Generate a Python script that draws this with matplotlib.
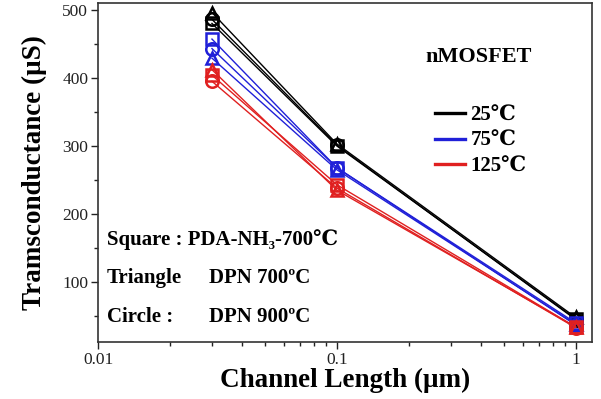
import matplotlib
matplotlib.use("Agg")
import matplotlib.pyplot as plt
from matplotlib.lines import Line2D
from matplotlib.ticker import FixedLocator, NullFormatter

plt.rcParams['font.family'] = ['Liberation Serif', 'DejaVu Serif']

# Channel length (um)
lengths = [0.03, 0.1, 1.0]

# Transconductance (uS) per temperature and dielectric process
gm_25_square = [480, 300, 46]
gm_25_triangle = [496, 303, 48]
gm_25_circle = [486, 301, 45]
gm_75_square = [457, 268, 40]
gm_75_triangle = [429, 265, 38]
gm_75_circle = [443, 268, 37]
gm_125_square = [404, 243, 34]
gm_125_triangle = [412, 235, 34]
gm_125_circle = [395, 238, 33]

temps = ['25\u2103', '75\u2103', '125\u2103']
colors = ['black', '#2020d8', '#e02020']

series = [
    (gm_25_circle, 'o', 0), (gm_25_square, 's', 0), (gm_25_triangle, '^', 0),
    (gm_75_triangle, '^', 1), (gm_75_circle, 'o', 1), (gm_75_square, 's', 1),
    (gm_125_square, 's', 2), (gm_125_triangle, '^', 2), (gm_125_circle, 'o', 2),
]

fig = plt.figure(figsize=(6.01, 3.99), dpi=100)
ax = fig.add_axes([98 / 601, 1 - 342 / 399, (592 - 98) / 601, (342 - 3) / 399])

for vals, mk, ci in series:
    ax.plot(lengths, vals, color=colors[ci], lw=1.0, marker=mk, markersize=9,
            markerfacecolor='none', markeredgecolor=colors[ci], markeredgewidth=1.8)

ax.set_xscale('log')
ax.set_xlim(0.01, 1.17)
ax.set_ylim(12, 510)
ax.set_yticks([100, 200, 300, 400, 500])
ax.yaxis.set_minor_locator(FixedLocator([50, 150, 250, 350, 450]))
ax.set_xticks([0.01, 0.1, 1])
ax.set_xticklabels(['0.01', '0.1', '1'])
ax.xaxis.set_minor_formatter(NullFormatter())

ax.tick_params(axis='both', which='major', direction='out', length=5, width=1,
               labelsize=12.5, pad=2, colors='#222222')
ax.tick_params(axis='both', which='minor', direction='out', length=3, width=1,
               colors='#222222')
for s in ax.spines.values():
    s.set_linewidth(1.2)
    s.set_color('#333333')

ax.set_xlabel('Channel Length (\u03bcm)', fontsize=19.5, fontweight='bold', labelpad=0)
ax.set_ylabel('Tramsconductance (\u03bcS)', fontsize=19.5, fontweight='bold', labelpad=11)

ax.text(0.771, 0.84, 'nMOSFET', transform=ax.transAxes, fontsize=16,
        fontweight='bold', ha='center', va='center')

handles = [Line2D([0], [0], color=c, lw=2.4) for c in colors]
leg = ax.legend(handles, temps, loc='upper left', bbox_to_anchor=(0.682, 0.697),
                frameon=False, handlelength=1.45, handletextpad=0.25,
                labelspacing=0.26, borderpad=0, borderaxespad=0,
                prop={'size': 15, 'weight': 'bold'})

tx1 = 0.018
tx2 = 0.225
ax.text(tx1, 0.302, 'Square : PDA-NH\u2083-700\u2103', transform=ax.transAxes,
        fontsize=15, fontweight='bold', va='center')
ax.text(tx1, 0.19, 'Triangle', transform=ax.transAxes,
        fontsize=15, fontweight='bold', va='center')
ax.text(tx2, 0.19, 'DPN 700\u00baC', transform=ax.transAxes,
        fontsize=15, fontweight='bold', va='center')
ax.text(tx1, 0.075, 'Circle :', transform=ax.transAxes,
        fontsize=15, fontweight='bold', va='center')
ax.text(tx2, 0.075, 'DPN 900\u00baC', transform=ax.transAxes,
        fontsize=15, fontweight='bold', va='center')

fig.savefig('out.png', dpi=100)
